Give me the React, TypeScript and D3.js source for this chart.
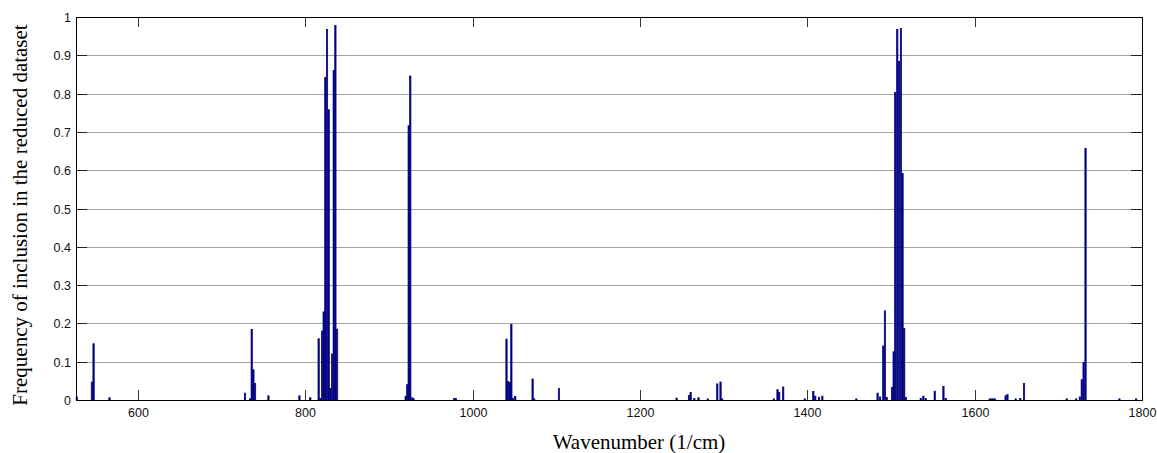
import React from "react";
import * as d3 from "d3";

// Wavenumbers (1/cm) of the bars
const wavenumbers: number[] = [
  527, 545, 547, 566,
  728, 734, 736, 738, 740, 756, 793, 806,
  816, 818, 820, 822, 824, 826, 828, 830, 832, 834, 836, 838,
  920, 921.8, 923.6, 925.5, 927.4, 929.3,
  978, 980,
  1040.5, 1042.4, 1044.3, 1046.3, 1048.2, 1051,
  1071.7, 1073.6, 1103.2,
  1243.8, 1258.6, 1260.6, 1265, 1270, 1281,
  1292.4, 1296.3, 1298.2,
  1360, 1364.4, 1366.4, 1371.2,
  1397, 1407.2, 1409.5, 1414, 1418, 1458.6,
  1484, 1487, 1490.8, 1492.8, 1494.8,
  1501.2, 1503.2, 1505.1, 1507.5, 1509.7, 1511.9, 1513.8, 1515.8, 1517.9,
  1535.6, 1538.7, 1541.5, 1552.3, 1562.7, 1565.4,
  1618, 1620, 1622, 1624, 1637, 1639.2, 1649, 1654.5, 1659,
  1710, 1721.3, 1725.7, 1728, 1730.2, 1732.5,
  1773, 1793,
];

// Frequency of inclusion for each wavenumber
const frequencies: number[] = [
  0.008, 0.047, 0.147, 0.006,
  0.018, 0.003, 0.184, 0.079, 0.043, 0.011, 0.011, 0.006,
  0.16, 0.004, 0.18, 0.23, 0.842, 0.967, 0.758, 0.03, 0.12, 0.86, 0.978, 0.185,
  0.01, 0.04, 0.716, 0.846, 0.006, 0.004,
  0.004, 0.004,
  0.159, 0.048, 0.046, 0.197, 0.005, 0.009,
  0.055, 0.003, 0.03,
  0.005, 0.012, 0.02, 0.004, 0.006, 0.003,
  0.042, 0.047, 0.003,
  0.003, 0.027, 0.02, 0.034,
  0.003, 0.022, 0.01, 0.007, 0.01, 0.003,
  0.018, 0.008, 0.141, 0.233, 0.007,
  0.033, 0.126, 0.803, 0.967, 0.884, 0.97, 0.591, 0.187, 0.007,
  0.004, 0.01, 0.004, 0.023, 0.035, 0.004,
  0.003, 0.003, 0.003, 0.003, 0.011, 0.014, 0.003, 0.004, 0.043,
  0.003, 0.003, 0.008, 0.053, 0.098, 0.657,
  0.003, 0.003,
];

const xTicks: number[] = [600, 800, 1000, 1200, 1400, 1600, 1800];
const yTicks: number[] = [0, 0.1, 0.2, 0.3, 0.4, 0.5, 0.6, 0.7, 0.8, 0.9, 1];
const xDomain: [number, number] = [526, 1800];

const xTitle = "Wavenumber (1/cm)";
const yTitle = "Frequency of inclusion in the reduced dataset";

export default function App() {
  const W = 1157;
  const H = 453;
  const left = 76, right = 1142, top = 17, bottom = 400;
  const x = d3.scaleLinear().domain(xDomain).range([left, right]);
  const y = d3.scaleLinear().domain([0, 1]).range([bottom, top]);
  const barW = 1.6; // in data units
  const blue = "#000080";
  const tickFont = "Arial, 'Liberation Sans', Helvetica, sans-serif";
  const titleFont = "'Times New Roman', 'Liberation Serif', Times, serif";

  return (
    <svg
      width={W}
      height={H}
      style={{ position: "fixed", left: 0, top: 0, background: "#fff" }}
    >
      <rect x={0} y={0} width={W} height={H} fill="#fff" />
      {/* grid lines */}
      {yTicks.filter((t) => t > 0 && t < 1).map((t) => (
        <line
          key={"g" + t}
          x1={left}
          x2={right}
          y1={Math.round(y(t)) + 0.5}
          y2={Math.round(y(t)) + 0.5}
          stroke="#a3a3a3"
          strokeWidth={1}
        />
      ))}
      {/* bars */}
      {wavenumbers.map((w, i) => {
        const x0 = x(w - barW / 2);
        const x1 = x(w + barW / 2);
        const yt = y(frequencies[i]);
        return (
          <rect
            key={"b" + i}
            x={x0}
            y={yt}
            width={x1 - x0}
            height={bottom - yt}
            fill={blue}
            stroke={blue}
            strokeWidth={0.7}
          />
        );
      })}
      {/* y ticks (left & right, inward) */}
      {yTicks.map((t) => {
        const yy = Math.round(y(t)) + 0.5;
        return (
          <g key={"yt" + t}>
            <line x1={left} x2={left + 11} y1={yy} y2={yy} stroke="#222" strokeWidth={1} />
            <line x1={right - 11} x2={right} y1={yy} y2={yy} stroke="#222" strokeWidth={1} />
            <text
              x={left - 5}
              y={yy}
              dy="0.36em"
              textAnchor="end"
              fontFamily={tickFont}
              fontSize={12.5}
              fill="#111"
            >
              {d3.format("")(t)}
            </text>
          </g>
        );
      })}
      {/* x ticks (top & bottom, inward) */}
      {xTicks.map((t) => {
        const xx = Math.round(x(t)) + 0.5;
        return (
          <g key={"xt" + t}>
            <line x1={xx} x2={xx} y1={bottom} y2={bottom - 10} stroke="#333" strokeWidth={1} />
            <line x1={xx} x2={xx} y1={top} y2={top + 10} stroke="#333" strokeWidth={1} />
            <text
              x={xx}
              y={417}
              textAnchor="middle"
              fontFamily={tickFont}
              fontSize={12.5}
              fill="#111"
            >
              {t}
            </text>
          </g>
        );
      })}
      {/* axes box */}
      <line x1={left} x2={right} y1={bottom + 0.5} y2={bottom + 0.5} stroke="#000" strokeWidth={1} />
      <line x1={left} x2={right} y1={top + 0.5} y2={top + 0.5} stroke="#000" strokeWidth={1.2} />
      <line x1={left + 0.5} x2={left + 0.5} y1={top} y2={bottom + 1} stroke="#000" strokeWidth={1} />
      <line x1={right + 0.5} x2={right + 0.5} y1={top} y2={bottom + 1} stroke="#000" strokeWidth={1} />
      {/* titles */}
      <text
        x={639}
        y={449}
        textAnchor="middle"
        fontFamily={titleFont}
        fontSize={21}
        fill="#000"
      >
        {xTitle}
      </text>
      <text
        transform={`translate(27, 215) rotate(-90)`}
        textAnchor="middle"
        fontFamily={titleFont}
        fontSize={21}
        fill="#000"
      >
        {yTitle}
      </text>
    </svg>
  );
}
